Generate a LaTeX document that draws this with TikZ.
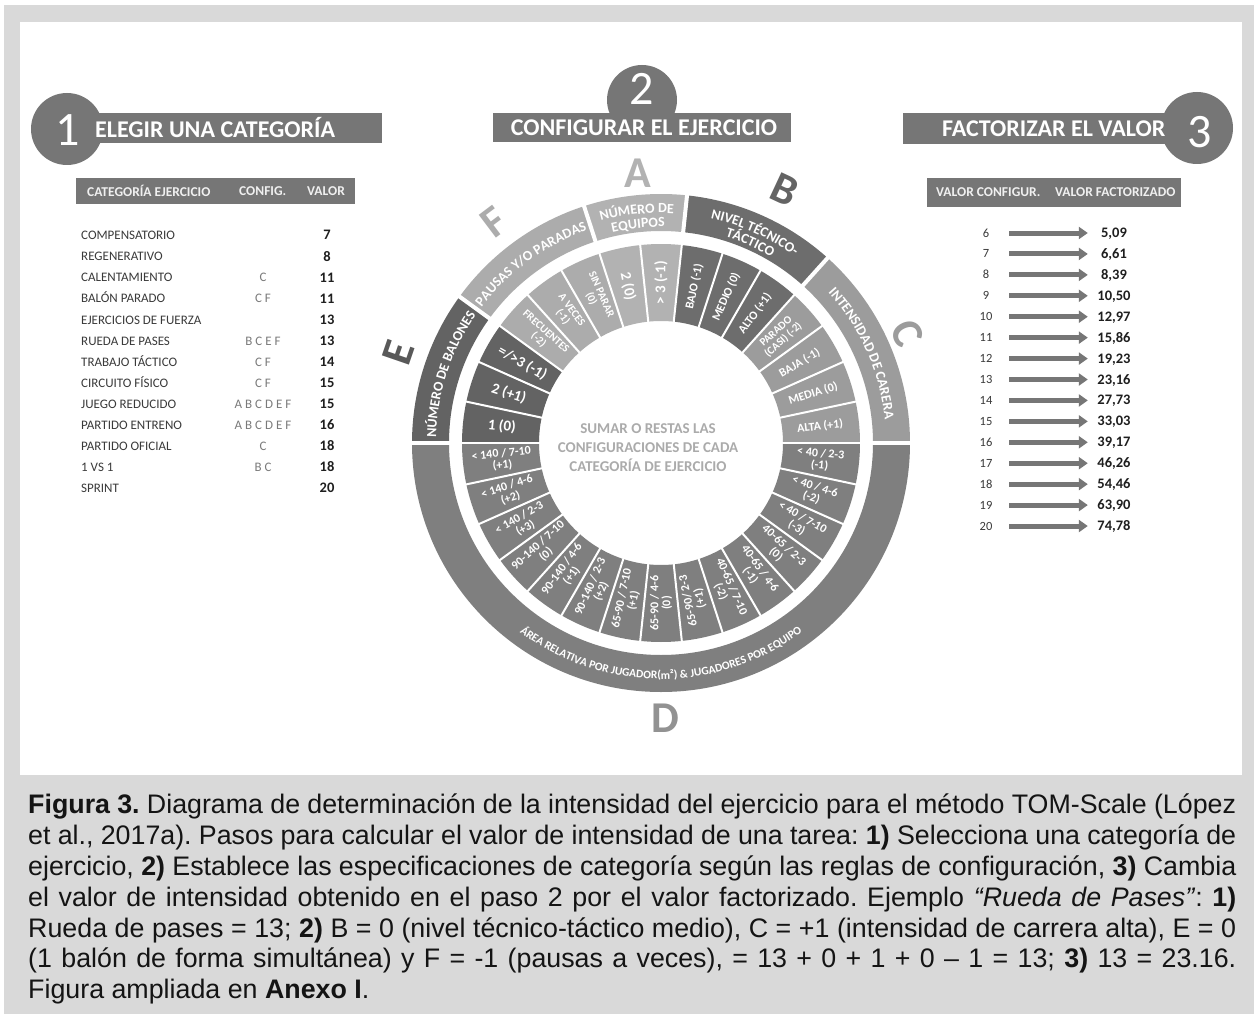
\documentclass[tikz,border=0pt]{standalone}
\usepackage{fontspec}
\setmainfont{Carlito}
\newfontfamily\captionfont{Liberation Sans}
\usetikzlibrary{arrows.meta,decorations.text,positioning}
\definecolor{frame}{HTML}{D9D9D9}
\definecolor{barfill}{HTML}{767676}
\definecolor{ringA}{HTML}{B2B2B2}
\definecolor{ringB}{HTML}{6D6D6D}
\definecolor{ringC}{HTML}{9C9C9C}
\definecolor{ringD}{HTML}{7F7F7F}
\definecolor{ringE}{HTML}{636363}
\definecolor{ringF}{HTML}{ACACAC}
\definecolor{rowtext}{HTML}{3A3A3A}
\definecolor{cfgtext}{HTML}{7A7A7A}
\definecolor{sumtext}{HTML}{ABABAB}
\newcommand\pxfont[1]{\fontsize{#1}{#1}\selectfont}
\newcommand\ringfont{\pxfont{14}\bfseries}
\newcommand\ringsmall{\pxfont{11.5}\bfseries}
\tikzset{
  >=Latex,
  headbar/.style={fill=barfill, minimum height=30pt, inner sep=0pt},
  headtext/.style={text=white, font=\pxfont{24}\bfseries, inner sep=0pt, anchor=west},
  stepdisc/.style={circle, fill=barfill, minimum size=72pt, inner sep=0pt},
  stepnum/.style={text=white, font=\pxfont{48}, inner sep=0pt},
  tablebar/.style={fill=barfill, inner sep=0pt},
  tablehead/.style={text=white!94!black, font=\pxfont{13.5}\bfseries, inner sep=0pt, anchor=west},
  catname/.style={text=rowtext, font=\pxfont{13}, inner sep=0pt, anchor=west, text height=8.4pt, text depth=0pt},
  catcfg/.style={text=cfgtext, font=\pxfont{13}, inner sep=0pt, text height=8.4pt, text depth=0pt},
  catval/.style={text=black!88, font=\pxfont{14.5}\bfseries, inner sep=0pt, text height=9pt, text depth=0pt},
  cfgval/.style={text=rowtext, font=\pxfont{12.5}, inner sep=0pt, minimum width=46pt, text height=8pt, text depth=0pt},
  factval/.style={text=black!88, font=\pxfont{14.5}\bfseries, inner sep=0pt, minimum width=52pt, text height=9pt, text depth=0pt},
  factarrow/.style={draw=barfill, line width=5pt, -{Triangle[length=9pt,width=12pt]}},
  segtext/.style={text=white, align=center, inner sep=0pt},
  ringletter/.style={font=\pxfont{44}\bfseries, inner sep=0pt},
  ringlabel/.style={decorate, decoration={text along path, text align=center, text color=white, text={#1}}},
  centretext/.style={text=sumtext, font=\fontsize{15}{19}\selectfont\bfseries, align=center},
  caption/.style={text width=1208pt, align=justify, inner sep=0pt, text=black!92,
    font=\captionfont\fontsize{26.8}{30.8}\selectfont}
}

\begin{document}
\begin{tikzpicture}[x=1pt,y=1pt]
\useasboundingbox (0,0) rectangle (1254,-1014);
\fill[white] (0,0) rectangle (1254,-1014);
\fill[frame] (4,-5) rectangle (1254,-1014);
\fill[white] (20,-22) rectangle (1242,-775);

% step headers
\node[stepdisc] (disc1) at (67,-129) {};
\node[headbar, minimum width=312pt, anchor=west] (bar1) at (70,-128) {};
\node[stepnum] (num1) at (68,-130) {1};
\node[headtext] (title1) at (95,-128) {ELEGIR UNA CATEGORÍA};

\node[stepdisc, minimum size=70pt] (disc2) at (642,-100) {};
\node[headbar, minimum width=298pt, minimum height=29pt] (bar2) at (642,-127.5) {};
\node[stepnum] (num2) at (642,-89) {2};
\node[headtext, anchor=center] (title2) at (644,-127.5) {CONFIGURAR EL EJERCICIO};

\node[headbar, minimum width=300pt, minimum height=31pt, anchor=west] (bar3) at (903,-128.5) {};
\node[stepdisc] (disc3) at (1197,-128) {};
\node[stepnum] (num3) at (1200,-132) {3};
\node[headtext] (title3) at (942,-128.5) {FACTORIZAR EL VALOR};

% step 1 table
\node[tablebar, minimum width=279pt, minimum height=26pt] (head1) at (215.5,-191) {};
\node[tablehead] (h1a) at (87,-191) {CATEGORÍA EJERCICIO};
\node[tablehead] (h1b) at (239,-191) {CONFIG.};
\node[tablehead] (h1c) at (307,-191) {VALOR};
\foreach \k/\name/\cfg/\val in {1/COMPENSATORIO//7, 2/REGENERATIVO//8,
    3/CALENTAMIENTO/C/11, 4/BALÓN PARADO/C F/11, 5/EJERCICIOS DE FUERZA//13,
    6/RUEDA DE PASES/B C E F/13, 7/TRABAJO TÁCTICO/C F/14, 8/CIRCUITO FÍSICO/C F/15,
    9/JUEGO REDUCIDO/A B C D E F/15, 10/PARTIDO ENTRENO/A B C D E F/16,
    11/PARTIDO OFICIAL/C/18, 12/1 VS 1/B C/18, 13/SPRINT//20}{
  \pgfmathsetmacro\y{-235.5-21.08*(\k-1)}
  \node[catname] (cat\k) at (81,\y) {\name};
  \node[catcfg] (cfg\k) at (263,\y) {\cfg};
  \node[catval] (val\k) at (327,\y) {\val};
}

% step 3 table
\node[tablebar, minimum width=254pt, minimum height=29pt] (head3) at (1054,-192.5) {};
\node[tablehead] (h3a) at (936,-192.5) {VALOR CONFIGUR.};
\node[tablehead] (h3b) at (1055,-192.5) {VALOR FACTORIZADO};
\foreach \v/\f [count=\k from 0] in {6/{5,09}, 7/{6,61}, 8/{8,39}, 9/{10,50},
    10/{12,97}, 11/{15,86}, 12/{19,23}, 13/{23,16}, 14/{27,73}, 15/{33,03},
    16/{39,17}, 17/{46,26}, 18/{54,46}, 19/{63,90}, 20/{74,78}}{
  \pgfmathsetmacro\y{-233-20.93*\k}
  \node[cfgval] (cv\v) at (986,\y) {\v};
  \node[factval] (fv\v) at (1114,\y) {\f};
  \draw[factarrow] (cv\v) -- (fv\v);
}

% step 2 wheel
\begin{scope}[shift={(661,-443)}]
  \foreach \a/\b/\col in {0/48/ringC, 48/84/ringB, 84/108/ringA, 108/144/ringF,
      144/180/ringE, 180/360/ringD}
    \fill[\col] (\a:212) arc (\a:\b:212) -- (\b:249) arc (\b:\a:249) -- cycle;
  \foreach \a in {0,48,84,108,144,180}
    \draw[white, line width=4pt] (\a:209) -- (\a:252);

  \foreach \i/\col/\fs/\lab in {0/ringC/12/{ALTA (+1)}, 1/ringC/12/{MEDIA (0)},
      2/ringC/12/{BAJA (-1)}, 3/ringC/11/{PARADO\\(CASI) (-2)},
      4/ringB/12/{ALTO (+1)}, 5/ringB/12/{MEDIO (0)}, 6/ringB/12/{BAJO (-1)},
      7/ringA/15/{> 3 (-1)}, 8/ringA/15/{2 (0)},
      9/ringF/11/{SIN PARAR\\(0)}, 10/ringF/11/{A VECES\\(-1)}, 11/ringF/11/{FRECUENTES\\(-2)},
      12/ringE/15/{=/>3 (-1)}, 13/ringE/15/{2 (+1)}, 14/ringE/15/{1 (0)},
      15/ringD/12/{< 140 / 7-10\\(+1)}, 16/ringD/12/{< 140 / 4-6\\(+2)},
      17/ringD/12/{< 140 / 2-3\\(+3)}, 18/ringD/12/{90-140 / 7-10\\(0)},
      19/ringD/12/{90-140 / 4-6\\(+1)}, 20/ringD/12/{90-140 / 2-3\\(+2)},
      21/ringD/12/{65-90 / 7-10\\(+1)}, 22/ringD/12/{65-90 / 4-6\\(0)},
      23/ringD/12/{65-90/ 2-3\\(+1)}, 24/ringD/12/{40-65 / 7-10\\(-2)},
      25/ringD/12/{40-65 / 4-6\\(-1)}, 26/ringD/12/{40-65 / 2-3\\(0)},
      27/ringD/12/{< 40 / 7-10\\(-3)}, 28/ringD/12/{< 40 / 4-6\\(-2)},
      29/ringD/12/{< 40 / 2-3\\(-1)}}{
    \pgfmathsetmacro\m{12*\i+6}
    \pgfmathsetmacro\a{\m-6}
    \pgfmathsetmacro\b{\m+6}
    \pgfmathsetmacro\rot{(\m>95 && \m<288) ? \m-180 : \m}
    \fill[\col] (\a:122) arc (\a:\b:122) -- (\b:199) arc (\b:\a:199) -- cycle;
    \node[segtext, font=\pxfont{\fs}\bfseries, rotate=\rot] (seg\i) at (\m:160) {\lab};
  }
  \foreach \a in {0,12,...,348}
    \draw[white, line width=2pt] (\a:120) -- (\a:201);

  \path[ringlabel={|\ringfont|NÚMERO DE}] (108:230) arc (108:84:230);
  \path[ringlabel={|\ringfont|EQUIPOS}] (108:216) arc (108:84:216);
  \path[ringlabel={|\ringfont|NIVEL TÉCNICO-}] (84:230) arc (84:48:230);
  \path[ringlabel={|\ringfont|TÁCTICO}] (84:216) arc (84:48:216);
  \path[ringlabel={|\ringfont|INTENSIDAD DE CARERA}] (48:225) arc (48:0:225);
  \path[ringlabel={|\ringfont|NÚMERO DE BALONES}] (180:225) arc (180:144:225);
  \path[ringlabel={|\ringfont|PAUSAS Y/O PARADAS}] (144:225) arc (144:108:225);
  \path[ringlabel={|\ringsmall|ÁREA RELATIVA POR JUGADOR(m²) {\&} JUGADORES POR EQUIPO}]
    (180:236) arc (180:360:236);

  \node[ringletter, text=ringA] (letA) at (95:271) {A};
  \node[ringletter, text=ringB!92!black, rotate=-25] (letB) at (64:282) {B};
  \node[ringletter, text=ringC, rotate=-66] (letC) at (24:270) {C};
  \node[ringletter, text=ringD!85!white] (letD) at (271:275) {D};
  \node[ringletter, text=ringE!90!black, rotate=71] (letE) at (161:278) {E};
  \node[ringletter, text=ringF, rotate=37] (letF) at (127:277) {F};

  \node[centretext] (sum) at (-13,-5) {SUMAR O RESTAS LAS\\CONFIGURACIONES DE CADA\\CATEGORÍA DE EJERCICIO};
\end{scope}

% caption
\node[caption, anchor=north west] (cap) at (28,-794) {\hyphenpenalty=10000\frenchspacing\relax
\textbf{Figura 3.} Diagrama de determinación de la intensidad del ejercicio para el método TOM-Scale (López\linebreak
et al., 2017a). Pasos para calcular el valor de intensidad de una tarea: \textbf{1)} Selecciona una categoría de\linebreak
ejercicio, \textbf{2)} Establece las especificaciones de categoría según las reglas de configuración, \textbf{3)} Cambia\linebreak
el valor de intensidad obtenido en el paso 2 por el valor factorizado. Ejemplo \textit{“Rueda de Pases”}: \textbf{1)}\linebreak
Rueda de pases = 13; \textbf{2)} B = 0 (nivel técnico-táctico medio), C = +1 (intensidad de carrera alta), E = 0\linebreak
(1 balón de forma simultánea) y F = -1 (pausas a veces), = 13 + 0 + 1 + 0 – 1 = 13; \textbf{3)} 13 = 23.16.\linebreak
Figura ampliada en \textbf{Anexo I}.};
\end{tikzpicture}
\end{document}
